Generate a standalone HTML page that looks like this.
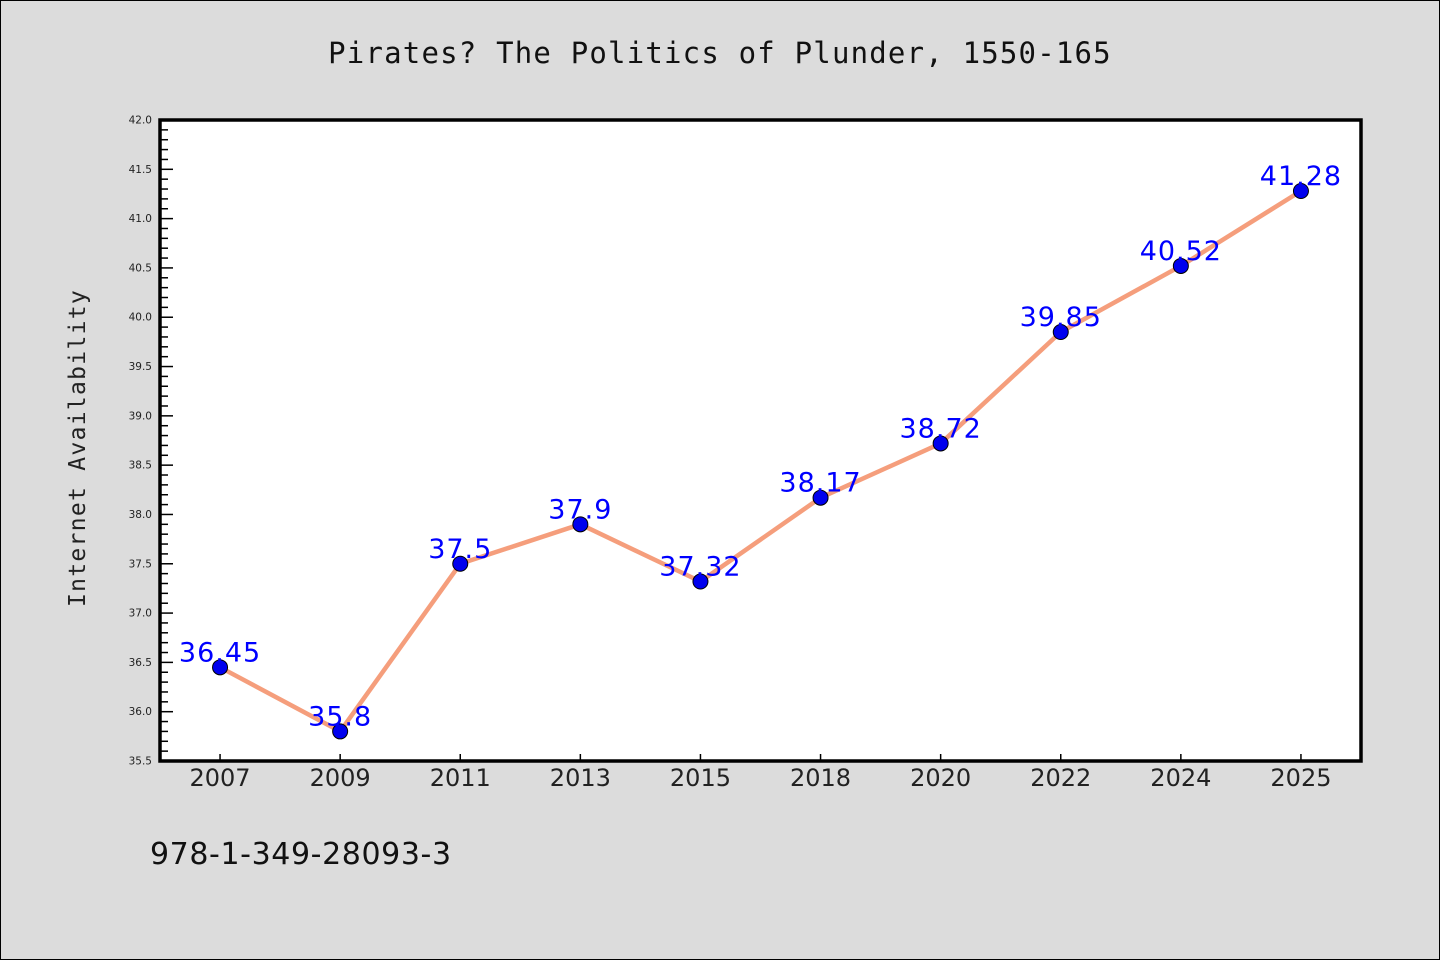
<!DOCTYPE html>
<html><head><meta charset="utf-8"><style>
body{margin:0;background:#dcdcdc;}
svg{display:block;font-family:"DejaVu Sans","Liberation Sans",sans-serif;}
</style></head><body>
<svg id="chart" width="1440" height="960">
<rect x="0.5" y="0.5" width="1439" height="959" fill="#dcdcdc" stroke="#000"/>
<text x="720" y="63" text-anchor="middle" font-size="29" letter-spacing="1.2" font-family="DejaVu Sans Mono, Liberation Mono, monospace" fill="#111">Pirates? The Politics of Plunder, 1550-165</text>
<rect x="160" y="120" width="1201" height="641" fill="#fff"/>
<g id="yaxis"></g>
<g id="xaxis"></g>
<g id="marks"></g>
<rect x="160" y="120" width="1201" height="641" fill="none" stroke="#000" stroke-width="3.5"/>
<text transform="translate(85,448) rotate(-90)" text-anchor="middle" font-size="23" letter-spacing="1.3" font-family="DejaVu Sans Mono, Liberation Mono, monospace" fill="#222">Internet Availability</text>
<text x="150" y="864" font-size="30" letter-spacing="0.6" fill="#111">978-1-349-28093-3</text>
</svg>
<script>
const categories=["2007","2009","2011","2013","2015","2018","2020","2022","2024","2025"];
const values=[36.45,35.8,37.5,37.9,37.32,38.17,38.72,39.85,40.52,41.28];
const labels=["36.45","35.8","37.5","37.9","37.32","38.17","38.72","39.85","40.52","41.28"];
const yTicks=["35.5","36.0","36.5","37.0","37.5","38.0","38.5","39.0","39.5","40.0","40.5","41.0","41.5","42.0"];
const NS="http://www.w3.org/2000/svg";
const L=160,R=1361,T=120,B=761,yMin=35.5,yMax=42.0;
const band=(R-L)/categories.length;
function xs(i){return L+band*(i+0.5);}
function ys(v){return B-(v-yMin)/(yMax-yMin)*(B-T);}
function mk(tag,attrs,parent){const e=document.createElementNS(NS,tag);for(const k in attrs)e.setAttribute(k,attrs[k]);parent.appendChild(e);return e;}
const ya=document.getElementById('yaxis'),xa=document.getElementById('xaxis'),mg=document.getElementById('marks');
for(let v=Math.round(yMin*10);v<=Math.round(yMax*10);v++){
  const y=ys(v/10);const major=v%5===0;
  const t=mk('line',{x1:L,x2:L+(major?13:8),y1:y,y2:y,stroke:'#000','stroke-width':1.5},ya);
  
  
}
yTicks.forEach(s=>{
  const y=ys(parseFloat(s));
  const t=mk('text',{x:152,y:y+3.5,'text-anchor':'end','font-size':10.5,fill:'#222'},ya);
  t.textContent=s;
  
  
});
categories.forEach((c,i)=>{
  const x=xs(i);
  const t=mk('line',{x1:x,x2:x,y1:B,y2:B-7,stroke:'#000','stroke-width':1.5},xa);
  
  
  const l=mk('text',{x:x,y:B+25,'text-anchor':'middle','font-size':24,fill:'#222'},xa);
  l.textContent=c;
  
  
});
const line=mk('polyline',{points:values.map((v,i)=>xs(i)+','+ys(v)).join(' '),fill:'none',stroke:'#f59e7c','stroke-width':4.5,'stroke-linejoin':'round'},mg);


values.forEach((v,i)=>{
  const c=mk('circle',{cx:xs(i),cy:ys(v),r:7.5,fill:'#0000ee',stroke:'#000','stroke-width':1},mg);
  
  
  const t=mk('text',{x:xs(i),y:ys(v)-6,'text-anchor':'middle','font-size':27,'letter-spacing':1,fill:'#0000ff'},mg);
  t.textContent=labels[i];
  
  
});
</script>
</body></html>
